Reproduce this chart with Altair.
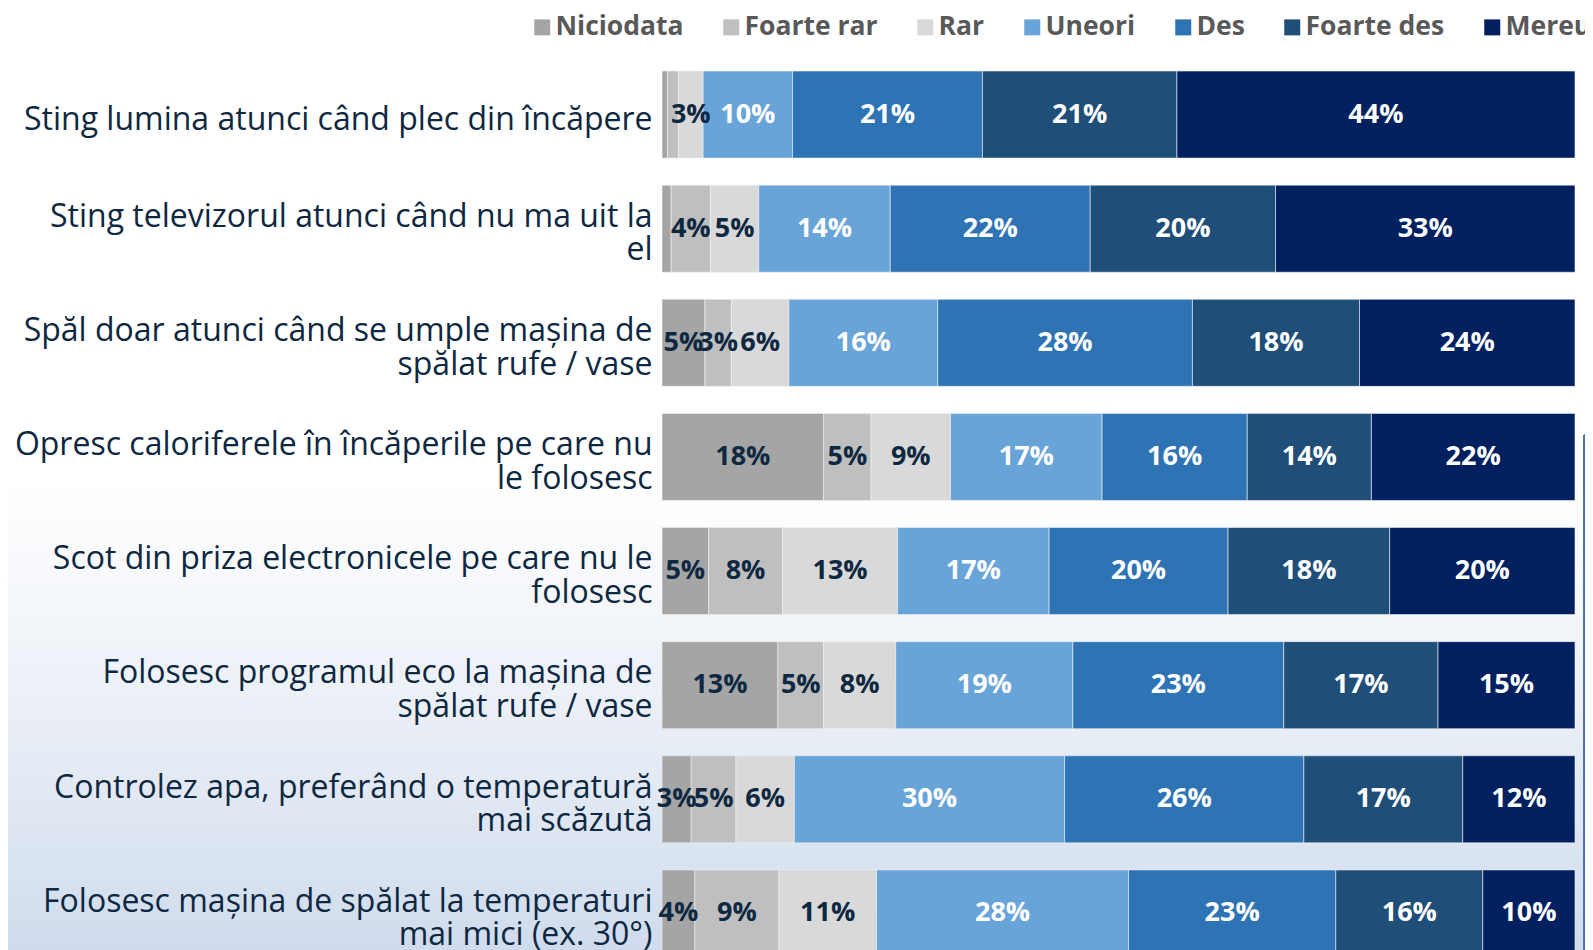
import altair as alt
import pandas as pd

categories = [
    "Sting lumina atunci când plec din încăpere",
    "Sting televizorul atunci când nu ma uit la\nel",
    "Spăl doar atunci când se umple mașina de\nspălat rufe / vase",
    "Opresc caloriferele în încăperile pe care nu\nle folosesc",
    "Scot din priza electronicele pe care nu le\nfolosesc",
    "Folosesc programul eco la mașina de\nspălat rufe / vase",
    "Controlez apa, preferând o temperatură\nmai scăzută",
    "Folosesc mașina de spălat la temperaturi\nmai mici (ex. 30°)",
]

series = ["Niciodata", "Foarte rar", "Rar", "Uneori", "Des", "Foarte des", "Mereu"]
colors = ["#a5a5a5", "#bfbfbf", "#d9d9d9", "#69a4d9", "#2e74b5", "#1f4e79", "#002060"]
label_colors = ["#0e2841", "#0e2841", "#0e2841", "#ffffff", "#ffffff", "#ffffff", "#ffffff"]

niciodata = [0.6, 1.0, 4.7, 17.7, 5.1, 12.7, 3.2, 3.6]
foarte_rar = [1.2, 4.3, 2.9, 5.2, 8.1, 5.0, 4.9, 9.2]
rar = [2.7, 5.3, 6.3, 8.7, 12.6, 7.9, 6.4, 10.7]
uneori = [9.8, 14.4, 16.3, 16.6, 16.6, 19.4, 29.6, 27.6]
des = [20.8, 21.9, 27.9, 15.9, 19.6, 23.1, 26.2, 22.7]
foarte_des = [21.3, 20.3, 18.3, 13.6, 17.7, 16.9, 17.4, 16.1]
mereu = [43.6, 32.8, 23.6, 22.3, 20.3, 15.0, 12.3, 10.1]

values = [niciodata, foarte_rar, rar, uneori, des, foarte_des, mereu]

rows = []
for si, s in enumerate(series):
    for ci, c in enumerate(categories):
        v = values[si][ci]
        rows.append({
            "cat": c,
            "series": s,
            "order": si,
            "value": v,
            "label": f"{round(v)}%" if v >= 2.5 else "",
            "lcolor": label_colors[si],
        })
df = pd.DataFrame(rows)

FONT = "Open Sans"
PLOT_W = 913
STEP = 114
H = 892
W = 923
LINE_H = 33.5

y_enc = alt.Y(
    "cat:N",
    sort=categories,
    scale=alt.Scale(range=[0, STEP * 8], paddingInner=0.237, paddingOuter=0.114),
    axis=alt.Axis(
        title=None,
        domain=False,
        ticks=False,
        labelPadding=10,
        labelLimit=0,
        labelFont=FONT,
        labelFontSize=32,
        labelColor="#0e2841",
        labelAlign="right",
        labelBaseline="middle",
        labelLineHeight=LINE_H,
        labelOffset={
            "condition": {"test": "indexof(datum.value, '\\n') >= 0", "value": 5 - LINE_H / 2},
            "value": 5,
        },
        labelExpr="split(datum.label, '\\n')",
        zindex=2,
    ),
)

x_scale = alt.Scale(domain=[0, 100], range=[0, PLOT_W], nice=False, zero=True)

base = alt.Chart(df).transform_stack(
    stack="value",
    groupby=["cat"],
    sort=[alt.SortField("order", order="ascending")],
    as_=["x0", "x1"],
).transform_calculate(mid="(datum.x0 + datum.x1) / 2")

bars = base.mark_bar(stroke="#f2f2f2", strokeWidth=0.6).encode(
    x=alt.X("x0:Q", scale=x_scale, axis=None),
    x2="x1:Q",
    y=y_enc,
    color=alt.Color(
        "series:N",
        scale=alt.Scale(domain=series, range=colors),
        sort=series,
        legend=alt.Legend(
            title=None,
            orient="none",
            direction="horizontal",
            columns=7,
            legendX=-133,
            legendY=-44,
            symbolType="square",
            symbolSize=256,
            symbolStrokeWidth=0,
            labelFont=FONT,
            labelFontSize=26.5,
            labelFontWeight="bold",
            labelColor="#595959",
            labelOffset=0,
            columnPadding=34,
            zindex=2,
        ),
    ),
    order=alt.Order("order:Q"),
)

texts = base.mark_text(font=FONT, fontSize=27, fontWeight="bold", baseline="middle", align="center").encode(
    x=alt.X("mid:Q", scale=x_scale, axis=None),
    y=alt.Y("cat:N", sort=categories),
    text="label:N",
    color=alt.Color("lcolor:N", scale=None, legend=None),
)

bg = alt.Chart(alt.Data(values=[{"k": 1}])).mark_rect(
    fill=alt.Gradient(
        gradient="linear",
        stops=[
            alt.GradientStop(color="#ffffff", offset=0),
            alt.GradientStop(color="#ffffff", offset=0.5),
            alt.GradientStop(color="#e9eef6", offset=0.75),
            alt.GradientStop(color="#cddaec", offset=1),
        ],
        x1=0, x2=0, y1=0, y2=1,
    )
).encode(
    x=alt.value(-662), x2=alt.value(W + 10), y=alt.value(-60), y2=alt.value(H + 20)
)

box_v = alt.Chart(alt.Data(values=[{"k": 1}])).mark_rule(color="#4f74b0", strokeWidth=2).encode(
    x=alt.value(W - 1), y=alt.value(377), y2=alt.value(H + 10)
)
box_h = alt.Chart(alt.Data(values=[{"k": 1}])).mark_rule(color="#4f74b0", strokeWidth=2).encode(
    x=alt.value(W - 1), x2=alt.value(W + 10), y=alt.value(377)
)

chart = alt.layer(bg, bars, texts, box_v, box_h).resolve_scale(color="independent").properties(
    width=W,
    height=H,
    autosize=alt.AutoSizeParams(type="none"),
    padding={"left": 654, "top": 50, "right": 0, "bottom": 0},
).configure_view(stroke=None).configure(background="#ffffff")

chart.save("out.html", embed_options={"renderer": "svg", "actions": False})
